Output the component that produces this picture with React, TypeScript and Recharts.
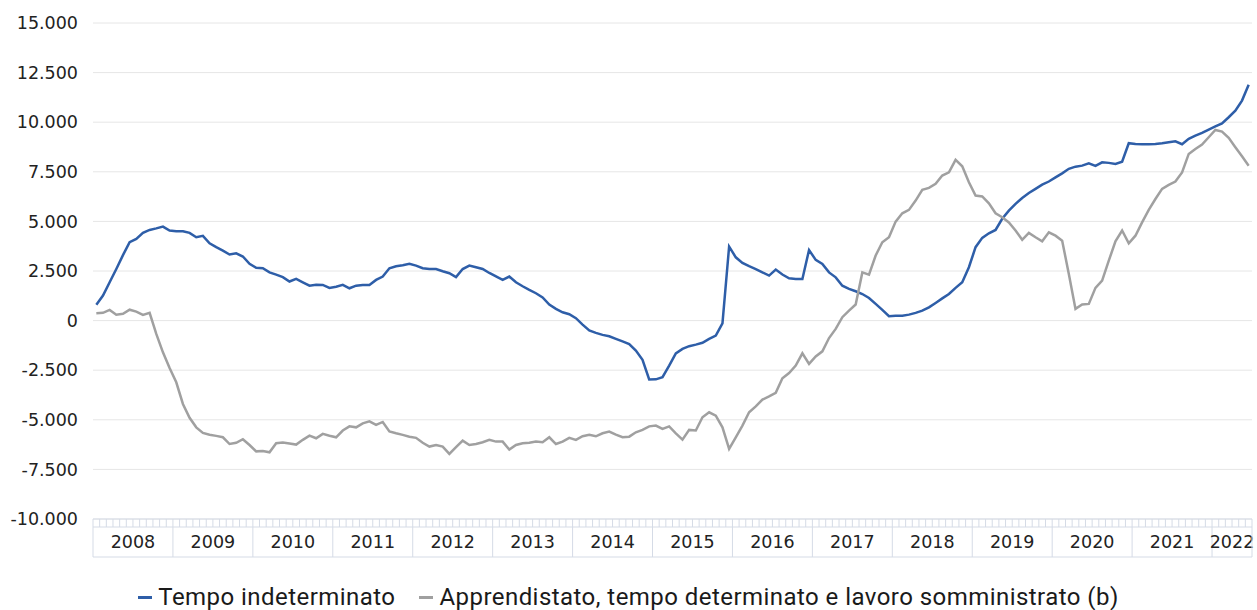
import React from 'react';
import { LineChart, Line, XAxis, YAxis, CartesianGrid, Legend } from 'recharts';

const W = 1257;
const H = 610;
const MARGIN = { top: 23, right: 5, bottom: 0, left: 0 };
const Y_AXIS_W = 93;
const X_AXIS_H = 38;
const LEGEND_H = 53;
const PLOT_W = W - MARGIN.left - MARGIN.right - Y_AXIS_W;

const BLUE = '#2e5ea8';
const GRAY = '#a0a0a0';
const BOX = '#d5dbe6';
const GRID = '#e6e6e6';

const years = ['2008', '2009', '2010', '2011', '2012', '2013', '2014', '2015', '2016', '2017', '2018', '2019', '2020', '2021', '2022'];
const monthsPerYear = [12, 12, 12, 12, 12, 12, 12, 12, 12, 12, 12, 12, 12, 12, 6];

const seriesNames = ['Tempo indeterminato', 'Apprendistato, tempo determinato e lavoro somministrato (b)'];

const tempoIndeterminato = [
  800, 1260, 1930, 2600, 3300, 3950, 4120, 4420, 4570, 4650,
  4740, 4540, 4500, 4500, 4420, 4200, 4270, 3900, 3700, 3530,
  3330, 3390, 3230, 2860, 2660, 2640, 2430, 2320, 2190, 1970,
  2100, 1930, 1760, 1810, 1800, 1650, 1710, 1800, 1630, 1760,
  1800, 1800, 2050, 2220, 2640, 2740, 2790, 2860, 2770, 2640,
  2600, 2600, 2490, 2390, 2190, 2600, 2770, 2690, 2600, 2400,
  2230, 2050, 2220, 1930, 1730, 1550, 1380, 1170, 810, 590,
  420, 320, 120, -200, -500, -620, -720, -790, -920, -1050,
  -1180, -1510, -1980, -2970, -2960, -2850, -2270, -1650, -1430, -1290,
  -1210, -1120, -920, -756, -135, 3730, 3190, 2910, 2740, 2600,
  2430, 2270, 2570, 2320, 2130, 2100, 2100, 3560, 3060, 2860,
  2430, 2180, 1760, 1600, 1480, 1340, 1140, 840, 540, 220,
  240, 250, 300, 390, 500, 670, 890, 1120, 1340, 1650,
  1930, 2690, 3700, 4170, 4400, 4570, 5130, 5540, 5880, 6180,
  6430, 6640, 6850, 7010, 7220, 7420, 7650, 7760, 7810, 7930,
  7800, 7980, 7950, 7900, 8010, 8940, 8900, 8890, 8890, 8900,
  8940, 8990, 9040, 8890, 9160, 9320, 9460, 9630, 9790, 9940,
  10250, 10580, 11090, 11890,
];

const apprendistato = [
  370, 390, 540, 300, 340, 550, 450, 290, 390, -670,
  -1600, -2390, -3110, -4200, -4900, -5380, -5660, -5750, -5810, -5880,
  -6220, -6160, -5980, -6270, -6590, -6570, -6640, -6180, -6150, -6200,
  -6250, -6010, -5800, -5930, -5710, -5800, -5880, -5540, -5330, -5380,
  -5180, -5080, -5260, -5110, -5590, -5680, -5760, -5850, -5910, -6160,
  -6350, -6270, -6350, -6720, -6380, -6050, -6270, -6220, -6130, -6010,
  -6100, -6100, -6500, -6270, -6180, -6160, -6100, -6130, -5880, -6220,
  -6100, -5910, -6010, -5830, -5760, -5830, -5680, -5590, -5750, -5880,
  -5850, -5630, -5510, -5330, -5290, -5460, -5330, -5680, -6000, -5510,
  -5540, -4870, -4620, -4790, -5380, -6470, -5880, -5290, -4620, -4320,
  -3980, -3820, -3640, -2910, -2640, -2270, -1650, -2180, -1810, -1550,
  -880, -420, 170, 500, 810, 2430, 2320, 3280, 3950, 4200,
  4990, 5410, 5580, 6050, 6590, 6690, 6890, 7310, 7470, 8100,
  7780, 6970, 6300, 6260, 5910, 5410, 5210, 4950, 4540, 4070,
  4420, 4200, 4000, 4450, 4280, 4030, 2350, 590, 810, 840,
  1650, 2020, 3020, 4000, 4540, 3900, 4280, 4950, 5580, 6130,
  6640, 6840, 7010, 7470, 8400, 8650, 8870, 9240, 9610, 9530,
  9210, 8740, 8280, 7810,
];

const yTicks = [-10000, -7500, -5000, -2500, 0, 2500, 5000, 7500, 10000, 12500, 15000];

// derived month positions
const totalMonths = monthsPerYear.reduce((a, b) => a + b, 0);
const boundaries: number[] = [0];
monthsPerYear.forEach((m) => boundaries.push(boundaries[boundaries.length - 1] + m));
const centers = monthsPerYear.map((m, i) => boundaries[i] + m / 2);
const monthTicks = Array.from({ length: totalMonths + 1 }, (_, i) => i);

const data = tempoIndeterminato.map((v, i) => ({
  t: i + 0.5,
  a: v,
  b: apprendistato[i],
}));

const fmt = (v: number) => {
  const s = Math.abs(v).toString().replace(/\B(?=(\d{3})+(?!\d))/g, '.');
  return (v < 0 ? '-' : '') + s;
};

const XTick = (props: any) => {
  const { x, y, payload, index } = props;
  const v = payload.value;
  const isBoundary = boundaries.includes(v);
  const yearIdx = centers.indexOf(v);
  return (
    <g>
      <line x1={x} x2={x} y1={y} y2={y + 8} stroke={BOX} strokeWidth={1} />
      {isBoundary && <line x1={x} x2={x} y1={y + 8} y2={y + X_AXIS_H} stroke={BOX} strokeWidth={1} />}
      {index === 0 && (
        <g>
          <line x1={x} x2={x + PLOT_W} y1={y + 8} y2={y + 8} stroke={BOX} strokeWidth={1} />
          <line x1={x} x2={x + PLOT_W} y1={y + X_AXIS_H} y2={y + X_AXIS_H} stroke={BOX} strokeWidth={1} />
        </g>
      )}
      {yearIdx >= 0 && (
        <text
          x={x}
          y={y + 23}
          textAnchor="middle"
          dominantBaseline="central"
          fontFamily="DejaVu Sans"
          fontSize={17.5}
          fill="#222"
        >
          {years[yearIdx]}
        </text>
      )}
    </g>
  );
};

const LegendContent = () => (
  <div
    style={{
      display: 'flex',
      justifyContent: 'center',
      alignItems: 'center',
      height: LEGEND_H,
      paddingTop: 27,
      boxSizing: 'border-box',
      fontFamily: 'Roboto',
      fontSize: 24,
      letterSpacing: '0.45px',
      color: '#1a1a1a',
      whiteSpace: 'nowrap',
    }}
  >
    {seriesNames.map((n, i) => (
      <span key={n} style={{ display: 'flex', alignItems: 'center', marginRight: i === 0 ? 24 : 0 }}>
        <span style={{ display: 'inline-block', width: 14, height: 3, background: i === 0 ? BLUE : GRAY, marginRight: 6 }} />
        {n}
      </span>
    ))}
  </div>
);

export default function App() {
  return (
    <div style={{ position: 'absolute', left: 0, top: 0, background: '#fff' }}>
      <LineChart width={W} height={H} data={data} margin={MARGIN}>
        <CartesianGrid horizontal vertical={false} stroke={GRID} strokeWidth={1} />
        <XAxis
          dataKey="t"
          type="number"
          domain={[0, totalMonths]}
          ticks={monthTicks}
          interval={0}
          height={X_AXIS_H}
          tickSize={0}
          tickMargin={0}
          tickLine={false}
          axisLine={{ stroke: BOX }}
          tick={<XTick />}
        />
        <YAxis
          type="number"
          domain={[-10000, 15000]}
          ticks={yTicks}
          width={Y_AXIS_W}
          axisLine={false}
          tickLine={false}
          tickSize={0}
          tickMargin={15}
          tickFormatter={fmt}
          tick={{ fontFamily: 'DejaVu Sans', fontSize: 17.5, fill: '#222' }}
          interval={0}
        />
        <Legend verticalAlign="bottom" height={LEGEND_H} wrapperStyle={{ left: 0, width: W }} content={<LegendContent />} />
        <Line type="linear" dataKey="a" name={seriesNames[0]} stroke={BLUE} strokeWidth={2.5} dot={false} isAnimationActive={false} />
        <Line type="linear" dataKey="b" name={seriesNames[1]} stroke={GRAY} strokeWidth={2.5} dot={false} isAnimationActive={false} />
      </LineChart>
    </div>
  );
}
